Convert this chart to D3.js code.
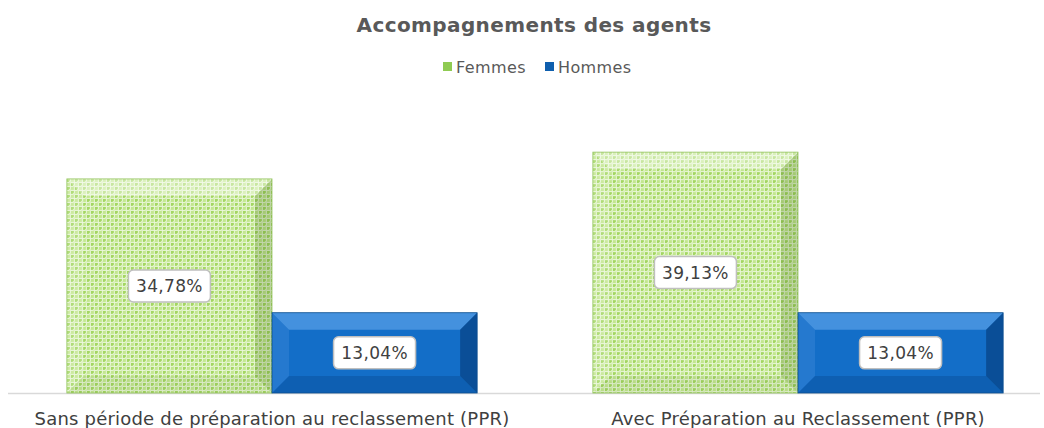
<!DOCTYPE html>
<html>
<head>
<meta charset="utf-8">
<script src="https://cdn.jsdelivr.net/npm/d3@7"></script>
<style>
  body { margin: 0; background: #fff; }
  svg text { font-family: "DejaVu Sans", Verdana, sans-serif; }
</style>
</head>
<body>
<div id="chart"></div>
<script>
// données
const categories = ["Sans période de préparation au reclassement (PPR)", "Avec Préparation au Reclassement (PPR)"];
const series = ["Femmes", "Hommes"];
const femmes = [0.3478, 0.3913];
const hommes = [0.1304, 0.1304];

const width = 1044, height = 428;
const svg = d3.select("#chart").append("svg")
  .attr("width", width).attr("height", height);

const defs = svg.append("defs");
// motif vert (treillis)
const pat = defs.append("pattern")
  .attr("id", "grille").attr("patternUnits", "userSpaceOnUse")
  .attr("width", 8).attr("height", 8);
pat.append("rect").attr("width", 8).attr("height", 8).attr("fill", "#eaf7da");
[[0,0,"#a3d661"],[4,0,"#c2e68f"],[0,4,"#c2e68f"],[4,4,"#a3d661"]].forEach(function(c) {
  pat.append("rect").attr("x", c[0]).attr("y", c[1]).attr("width", 3).attr("height", 3).attr("fill", c[2]);
});
pat.append("rect").attr("x", 2).attr("y", 2).attr("width", 2).attr("height", 2).attr("fill", "#dcf1c0");
pat.append("rect").attr("x", 6).attr("y", 6).attr("width", 2).attr("height", 2).attr("fill", "#dcf1c0");

const couleurs = { Femmes: "url(#grille)", Hommes: "#136ec8" };

// titre
svg.append("text")
  .attr("x", 534).attr("y", 32)
  .attr("text-anchor", "middle")
  .attr("font-size", 20).attr("font-weight", "bold")
  .attr("letter-spacing", 0.4)
  .attr("fill", "#595959")
  .text("Accompagnements des agents");

// légende
const legende = svg.append("g").attr("transform", "translate(443,67)");
const lx = [0, 102];
series.forEach(function(s, i) {
  const g = legende.append("g").attr("transform", "translate(" + lx[i] + ",0)");
  g.append("rect").attr("x", 0).attr("y", -5).attr("width", 9).attr("height", 9)
    .attr("fill", i === 0 ? "#8fcb52" : "#0f5fae");
  g.append("text").attr("x", 13).attr("y", 5.5).attr("font-size", 16)
    .attr("letter-spacing", 0.4)
    .attr("fill", "#595959").text(s);
});

// échelles
const x0 = d3.scaleBand().domain(categories).range([9, 1061])
  .paddingInner(0.22).paddingOuter(0.11);
const x1 = d3.scaleBand().domain(series).range([0, x0.bandwidth()]);
const y = d3.scaleLinear().domain([0, 0.45]).range([393, 116]);

// ligne de base
svg.append("line")
  .attr("x1", 8).attr("x2", 1040)
  .attr("y1", y(0) + 0.5).attr("y2", y(0) + 0.5)
  .attr("stroke", "#d9d9d9").attr("stroke-width", 1.5);

const donnees = [];
categories.forEach(function(c, i) {
  donnees.push({ cat: c, serie: "Femmes", v: femmes[i] });
  donnees.push({ cat: c, serie: "Hommes", v: hommes[i] });
});

const fmt = function(v) { return (v * 100).toFixed(2).replace(".", ",") + "%"; };
const b = 17;

const barres = svg.append("g").selectAll("g").data(donnees).join("g")
  .attr("transform", function(d) { return "translate(" + (x0(d.cat) + x1(d.serie)) + "," + y(d.v) + ")"; });

barres.each(function(d) {
  const g = d3.select(this);
  const w = x1.bandwidth();
  const h = y(0) - y(d.v);
  const bleu = d.serie === "Hommes";
  g.append("rect").attr("width", w).attr("height", h).attr("fill", couleurs[d.serie]);
  // biseau
  const faces = [
    { p: [[0,0],[w,0],[w-b,b],[b,b]], c: bleu ? "rgba(110,175,240,0.55)" : "rgba(255,255,255,0.4)" },
    { p: [[0,0],[b,b],[b,h-b],[0,h]], c: bleu ? "rgba(80,150,225,0.3)" : "rgba(255,255,255,0.15)" },
    { p: [[w,0],[w,h],[w-b,h-b],[w-b,b]], c: bleu ? "rgba(0,40,90,0.45)" : "rgba(60,100,20,0.22)" },
    { p: [[0,h],[w,h],[w-b,h-b],[b,h-b]], c: bleu ? "rgba(0,50,110,0.25)" : "rgba(60,100,20,0.08)" }
  ];
  faces.forEach(function(f) {
    g.append("polygon").attr("points", f.p.map(function(q) { return q.join(","); }).join(" "))
      .attr("fill", f.c);
  });
  g.append("rect").attr("width", w).attr("height", h).attr("fill", "none")
    .attr("stroke", bleu ? "#0d4f8f" : "#94c460").attr("stroke-width", 0.8);

  // étiquette
  const cx = w / 2, cy = h / 2;
  g.append("rect").attr("x", cx - 41).attr("y", cy - 16).attr("width", 82).attr("height", 32)
    .attr("rx", 5).attr("fill", "#fff").attr("stroke", "#bfbfbf").attr("stroke-width", 1.5);
  g.append("text").attr("x", cx).attr("y", cy + 6.5).attr("text-anchor", "middle")
    .attr("font-size", 17).attr("letter-spacing", 0.3)
    .attr("fill", "#404040").text(fmt(d.v));
});

// axe des catégories
const axe = svg.append("g").attr("transform", "translate(0," + y(0) + ")")
  .call(d3.axisBottom(x0).tickSize(0).tickPadding(19));
axe.select(".domain").remove();
axe.selectAll("text").attr("font-size", 18).attr("fill", "#404040")
  .attr("letter-spacing", 0.2)
  .style("font-family", "'DejaVu Sans', Verdana, sans-serif");
</script>
</body>
</html>
